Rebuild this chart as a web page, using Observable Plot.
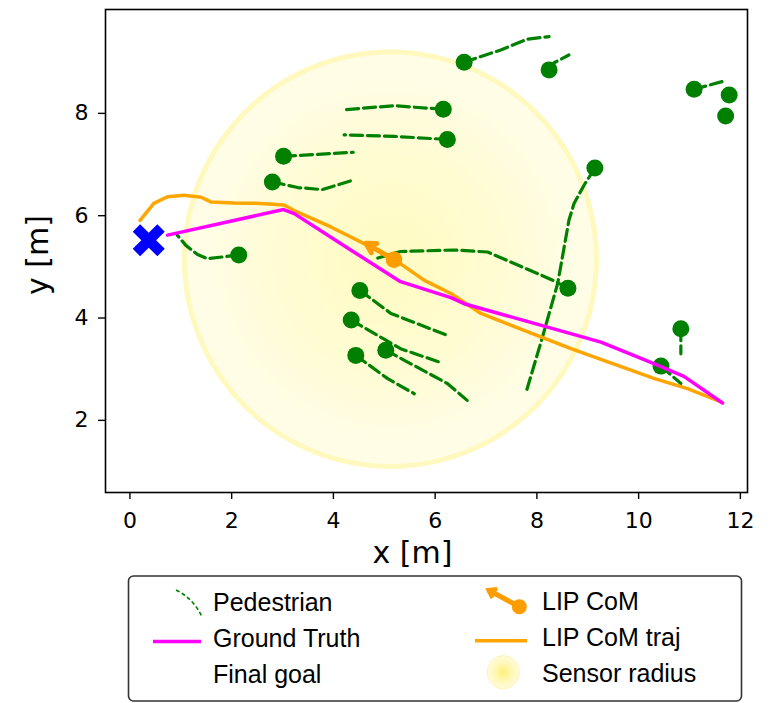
<!DOCTYPE html>
<html>
<head>
<meta charset="utf-8">
<script src="https://cdn.jsdelivr.net/npm/d3@7"></script>
<script src="https://cdn.jsdelivr.net/npm/@observablehq/plot@0.6"></script>
<style>
  body { margin: 0; background: #fff; }
  #chart svg { display: block; }
</style>
</head>
<body>
<div id="chart"></div>
<script>
// ---------- data ----------
const xTicks = [0, 2, 4, 6, 8, 10, 12];
const yTicks = [2, 4, 6, 8];

// pedestrian current positions
const pedX = [6.16, 6.24, 3.02, 2.80, 2.14, 6.57, 8.24, 11.09, 11.78, 11.71, 9.14, 8.61, 4.52, 4.35, 5.03, 4.44, 10.83, 10.44];
const pedY = [8.08, 7.49, 7.16, 6.66, 5.23, 9.00, 8.85, 8.47, 8.36, 7.95, 6.93, 4.58, 4.54, 3.96, 3.37, 3.27, 3.79, 3.06];

// pedestrian trails (from the dot outward), one list per pedestrian
const pedTrails = [
  [[6.16, 8.08], [5.60, 8.12], [5.19, 8.15], [4.21, 8.07]],
  [[6.24, 7.49], [5.20, 7.55], [4.21, 7.58]],
  [[3.02, 7.16], [3.70, 7.20], [4.39, 7.24]],
  [[2.80, 6.66], [3.30, 6.55], [3.78, 6.51], [4.34, 6.68]],
  [[2.14, 5.23], [1.52, 5.16], [1.33, 5.24], [1.10, 5.42], [0.93, 5.62]],
  [[6.57, 9.00], [7.29, 9.24], [7.81, 9.45], [8.24, 9.50]],
  [[8.24, 8.85], [8.34, 8.99], [8.63, 9.14]],
  [[11.09, 8.47], [11.71, 8.64]],
  [],
  [],
  [[9.14, 6.93], [8.93, 6.60], [8.73, 6.24], [8.63, 5.91], [8.41, 4.68], [8.11, 3.63], [7.80, 2.59]],
  [[8.61, 4.58], [8.31, 4.74], [7.03, 5.29], [6.37, 5.33], [5.32, 5.30], [4.83, 5.16]],
  [[4.52, 4.54], [5.13, 4.09], [6.24, 3.66]],
  [[4.35, 3.96], [5.32, 3.40], [6.08, 3.14]],
  [[5.03, 3.37], [6.24, 2.72], [6.63, 2.39]],
  [[4.44, 3.27], [5.06, 2.82], [5.59, 2.52]],
  [[10.83, 3.79], [10.83, 3.30]],
  [[10.44, 3.06], [10.83, 2.72]]
];

// ground truth path
const gtX = [0.74, 3.02, 3.23, 4.34, 5.32, 6.31, 6.57, 9.26, 10.30, 10.89, 11.65];
const gtY = [5.62, 6.12, 6.04, 5.33, 4.71, 4.40, 4.28, 3.53, 3.11, 2.86, 2.34];

// LIP CoM trajectory
const comTrajX = [0.20, 0.47, 0.74, 1.06, 1.40, 1.59, 2.05, 2.57, 3.03, 3.23, 3.95, 4.73, 5.19, 5.78, 6.31, 6.90, 8.67, 10.30, 10.96, 11.62];
const comTrajY = [5.91, 6.24, 6.37, 6.40, 6.36, 6.27, 6.25, 6.24, 6.21, 6.10, 5.78, 5.39, 5.15, 4.74, 4.48, 4.09, 3.40, 2.82, 2.62, 2.36];

// LIP CoM and its heading
const comX = [5.19], comY = [5.14];
const comTipX = [4.64], comTipY = [5.46];

// final goal
const goalX = [0.37], goalY = [5.52];

// sensor radius
const sensorCx = 5.12, sensorCy = 5.15, sensorR = 4.05;

// legend labels
const legendLeft = ["Pedestrian", "Ground Truth", "Final goal"];
const legendRight = ["LIP CoM", "LIP CoM traj", "Sensor radius"];

// ---------- derived tables ----------
const peds = pedX.map((x, i) => ({x, y: pedY[i]}));
const trailRows = pedTrails.flatMap((t, i) => t.map(([x, y]) => ({id: i, x, y})));
const gt = gtX.map((x, i) => ({x, y: gtY[i]}));
const comTraj = comTrajX.map((x, i) => ({x, y: comTrajY[i]}));
const comArrow = comX.map((x, i) => ({x1: x, y1: comY[i], x2: comTipX[i], y2: comTipY[i]}));
const com = comX.map((x, i) => ({x, y: comY[i]}));
const goal = goalX.map((x, i) => ({x, y: goalY[i]}));
const circle = d3.range(0, 360, 2).map(a => {
  const t = a * Math.PI / 180;
  return {x: sensorCx + sensorR * Math.cos(t), y: sensorCy + sensorR * Math.sin(t)};
});

// filled "X" marker like matplotlib's 'X'
const xSymbol = {
  draw(context, size) {
    const r = Math.sqrt(size / Math.PI);
    const L = r * Math.SQRT2 / 1.3, w = 0.3 * L;
    const pts = [[w, L], [w, w], [L, w], [L, -w], [w, -w], [w, -L], [-w, -L], [-w, -w], [-L, -w], [-L, w], [-w, w], [-w, L]];
    const c = Math.SQRT1_2;
    pts.forEach(([px, py], i) => {
      const qx = c * (px - py), qy = c * (px + py);
      if (i === 0) context.moveTo(qx, qy); else context.lineTo(qx, qy);
    });
    context.closePath();
  }
};

const chart = Plot.plot({
  width: 772,
  height: 575,
  marginLeft: 105,
  marginRight: 25,
  marginTop: 9,
  marginBottom: 83,
  style: {fontFamily: "DejaVu Sans", fontSize: "22px", color: "black", background: "white", overflow: "visible"},
  x: {domain: [-0.48, 12.14]},
  y: {domain: [0.59, 10.03]},
  marks: [
    Plot.line(circle, {x: "x", y: "y", curve: "linear-closed", fill: "url(#sensorGrad)", stroke: "#fff9bc", strokeWidth: 5, strokeOpacity: 0.95}),
    Plot.line(trailRows, {x: "x", y: "y", z: "id", stroke: "green", strokeWidth: 3.2, strokeDasharray: "12,5"}),
    Plot.dot(peds, {x: "x", y: "y", r: 8.5, fill: "green"}),
    Plot.line(comTraj, {x: "x", y: "y", stroke: "orange", strokeWidth: 3.5}),
    Plot.line(gt, {x: "x", y: "y", stroke: "magenta", strokeWidth: 3.5}),
    Plot.arrow(comArrow, {x1: "x1", y1: "y1", x2: "x2", y2: "y2", stroke: "#ff9c00", strokeWidth: 5, headLength: 5}),
    Plot.dot(com, {x: "x", y: "y", r: 8.3, fill: "#ff9c00"}),
    Plot.dot(goal, {x: "x", y: "y", r: 16, fill: "blue", symbol: xSymbol}),
    Plot.frame({stroke: "black", strokeWidth: 1.6}),
    Plot.axisX({ticks: xTicks, tickSize: 7, tickPadding: 13, fontSize: 22, label: null, strokeWidth: 1.4}),
    Plot.axisY({ticks: yTicks, tickSize: 7, tickPadding: 10, fontSize: 22, label: null, strokeWidth: 1.4}),
    Plot.text(["x [m]"], {frameAnchor: "bottom", dx: -14, dy: 61, lineAnchor: "middle", fontSize: 30}),
    Plot.text(["y [m]"], {frameAnchor: "left", dx: -67, dy: 44, rotate: -90, lineAnchor: "middle", fontSize: 30})
  ]
});

// gradient for the sensor disc
const defs = d3.select(chart).insert("defs", ":first-child");
const g = defs.append("radialGradient").attr("id", "sensorGrad");
g.append("stop").attr("offset", "0%").attr("stop-color", "#fffbc2");
g.append("stop").attr("offset", "50%").attr("stop-color", "#fffcd2");
g.append("stop").attr("offset", "90%").attr("stop-color", "#fffde6");
g.append("stop").attr("offset", "100%").attr("stop-color", "#fffde6");

document.getElementById("chart").append(chart);

// ---------- legend (below the plot) ----------
const lg = d3.select("#chart").append("svg")
  .attr("width", 772).attr("height", 128)
  .style("display", "block")
  .style("font-family", "'Liberation Sans', Arial, sans-serif");
const ldefs = lg.append("defs");
const lgGrad = ldefs.append("radialGradient").attr("id", "legGrad");
lgGrad.append("stop").attr("offset", "0%").attr("stop-color", "#fff07a");
lgGrad.append("stop").attr("offset", "60%").attr("stop-color", "#fff8bc");
lgGrad.append("stop").attr("offset", "100%").attr("stop-color", "#fffbdc");

lg.append("rect").attr("x", 128.5).attr("y", 1).attr("width", 613).attr("height", 125)
  .attr("rx", 5).attr("fill", "white").attr("stroke", "#333").attr("stroke-width", 1.6);

// Pedestrian handle
lg.append("path").attr("d", "M176,15 Q194,24 202,42")
  .attr("fill", "none").attr("stroke", "green").attr("stroke-width", 1.6).attr("stroke-dasharray", "4,2.5");
// Ground truth handle
lg.append("line").attr("x1", 153).attr("x2", 201).attr("y1", 66.5).attr("y2", 66.5)
  .attr("stroke", "magenta").attr("stroke-width", 3.5);
// LIP CoM handle
const ax0 = 519.3, ay0 = 31.7, ax1 = 488.3, ay1 = 15;
const ang = Math.atan2(ay0 - ay1, ax0 - ax1);
const wing = 9;
lg.append("line").attr("x1", ax0).attr("y1", ay0).attr("x2", ax1).attr("y2", ay1)
  .attr("stroke", "#ff9c00").attr("stroke-width", 5);
lg.append("path")
  .attr("d", `M${ax1 + wing * Math.cos(ang + 0.6)},${ay1 + wing * Math.sin(ang + 0.6)}L${ax1},${ay1}L${ax1 + wing * Math.cos(ang - 0.6)},${ay1 + wing * Math.sin(ang - 0.6)}`)
  .attr("fill", "none").attr("stroke", "#ff9c00").attr("stroke-width", 4);
lg.append("circle").attr("cx", ax0).attr("cy", ay0).attr("r", 7.5).attr("fill", "#ff9c00");
// LIP CoM traj handle
lg.append("line").attr("x1", 475).attr("x2", 527).attr("y1", 65.7).attr("y2", 65.7)
  .attr("stroke", "orange").attr("stroke-width", 3.5);
// Sensor radius handle
lg.append("ellipse").attr("cx", 503.3).attr("cy", 97.3).attr("rx", 16).attr("ry", 16.7)
  .attr("fill", "url(#legGrad)").attr("stroke", "#fff3b8").attr("stroke-width", 1);

legendLeft.forEach((t, i) => {
  lg.append("text").attr("x", 213).attr("y", 36 + i * 36).attr("font-size", 25).attr("fill", "black").text(t);
});
legendRight.forEach((t, i) => {
  lg.append("text").attr("x", 542).attr("y", 35 + i * 36).attr("font-size", 25).attr("fill", "black").text(t);
});
</script>
</body>
</html>
